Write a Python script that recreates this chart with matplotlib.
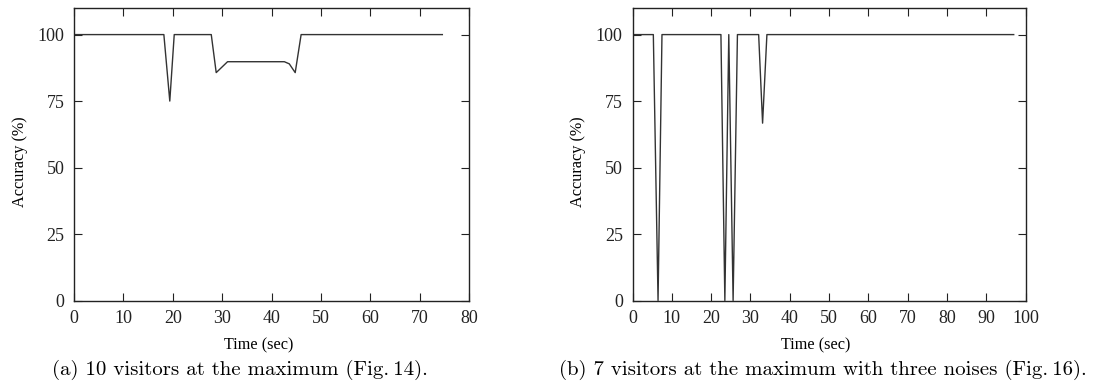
import matplotlib
matplotlib.use('Agg')
import matplotlib.pyplot as plt

# (a) 10 visitors at the maximum
time_a = [0, 18.2, 19.4, 20.3, 27.8, 28.8, 31.1, 42.6, 43.6, 44.8, 46.0, 74.6]
acc_a = [100, 100, 75, 100, 100, 85.7, 89.8, 89.8, 89.0, 85.7, 100, 100]

# (b) 7 visitors at the maximum with three noises
time_b = [0, 5.3, 6.5, 7.5, 22.5, 23.5, 24.5, 25.6, 26.7, 32.1, 33.1, 34.2, 97.0]
acc_b = [100, 100, 0, 100, 100, 0, 100, 0, 100, 100, 66.7, 100, 100]

yticks = [0, 25, 50, 75, 100]
xticks_a = list(range(0, 81, 10))
xticks_b = list(range(0, 101, 10))

captions = ["(a) 10 visitors at the maximum (Fig.\u200914).",
            "(b) 7 visitors at the maximum with three noises (Fig.\u200916)."]

plt.rcParams['font.family'] = ['Liberation Serif', 'DejaVu Serif']

fig = plt.figure(figsize=(11.01, 3.83), dpi=100)
W, H = 1101.0, 383.0
ax_a = fig.add_axes([74 / W, 1 - 300.5 / H, (469 - 74) / W, (300.5 - 8) / H])
ax_b = fig.add_axes([632.5 / W, 1 - 300.5 / H, (1025.5 - 632.5) / W, (300.5 - 8) / H])

for ax, t, a, xt, xmax in [(ax_a, time_a, acc_a, xticks_a, 80), (ax_b, time_b, acc_b, xticks_b, 100)]:
    ax.plot(t, a, color='#333333', lw=1.0)
    ax.set_xlim(0, xmax)
    ax.set_ylim(0, 110)
    ax.set_xticks(xt)
    ax.set_yticks(yticks)
    ax.tick_params(direction='in', top=True, right=True, length=6, width=0.8,
                   labelsize=13, colors='#222222', pad=7)
    for s in ax.spines.values():
        s.set_linewidth(1.0)
        s.set_color('#222222')
    ax.set_xlabel('Time (sec)', fontsize=11.7, labelpad=7)
    ax.set_ylabel('Accuracy (%)', fontsize=11.7, labelpad=7)
    ax.xaxis.label.set_x(0.467)
    ax.yaxis.label.set_y(0.473)

fig.text(240 / W, 1 - 370 / H, captions[0], ha='center', va='center',
         fontsize=15, family=['cmr10', 'DejaVu Serif'])
fig.text(823 / W, 1 - 370 / H, captions[1], ha='center', va='center',
         fontsize=15, family=['cmr10', 'DejaVu Serif'])

fig.savefig('out.png', dpi=100)
